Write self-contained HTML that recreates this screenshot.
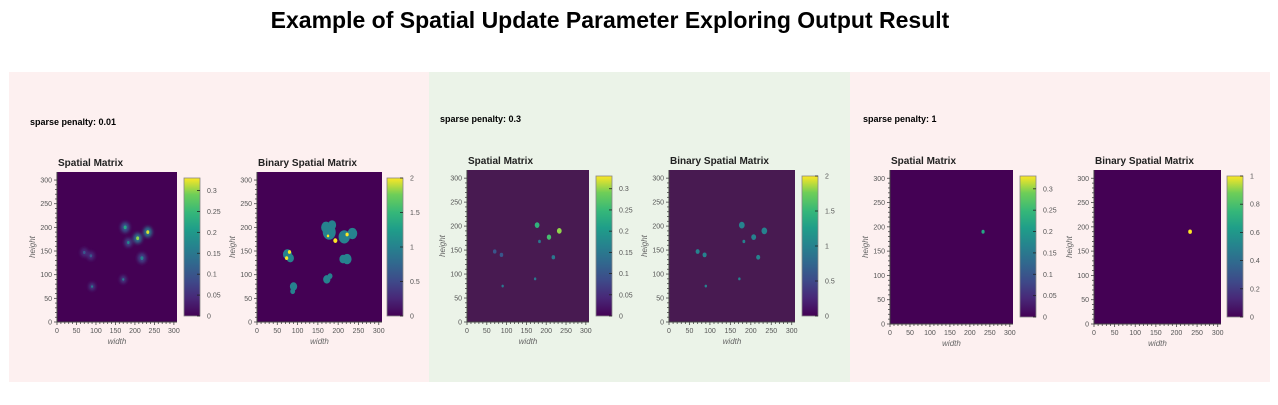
<!DOCTYPE html>
<html><head><meta charset="utf-8"><style>
body{margin:0;background:#fff;width:1278px;height:400px;overflow:hidden;font-family:"Liberation Sans",sans-serif}
</style></head><body>
<svg id="s" width="1278" height="400" xmlns="http://www.w3.org/2000/svg">
<defs><linearGradient id="vir" x1="0" y1="1" x2="0" y2="0">
<stop offset="0" stop-color="#440154"/><stop offset="0.13" stop-color="#482878"/><stop offset="0.25" stop-color="#3e4989"/><stop offset="0.38" stop-color="#31688e"/><stop offset="0.5" stop-color="#26828e"/><stop offset="0.63" stop-color="#1f9e89"/><stop offset="0.75" stop-color="#35b779"/><stop offset="0.88" stop-color="#6ece58"/><stop offset="1" stop-color="#fde725"/></linearGradient>
<filter id="bl"><feGaussianBlur stdDeviation="1.5"/></filter></defs>
<text x="610" y="28" text-anchor="middle" font-size="23" font-weight="bold" fill="#000">Example of Spatial Update Parameter Exploring Output Result</text>
<rect x="9" y="72" width="420" height="310" fill="#fdf0f0"/>
<rect x="429" y="72" width="421" height="310" fill="#ebf3e8"/>
<rect x="850" y="72" width="420" height="310" fill="#fdf0f0"/>
<text x="30" y="125" font-size="9" font-weight="bold">sparse penalty: 0.01</text>
<text x="440" y="122" font-size="9" font-weight="bold">sparse penalty: 0.3</text>
<text x="863" y="122" font-size="9" font-weight="bold">sparse penalty: 1</text>
</svg>
<script>
// spots: [x, y, value, radius(data units)]
const p1Spatial=[[175,200,0.22,7],[207,177,0.3,7],[233,190,0.32,7],[183,168,0.17,6],[218,135,0.16,7],[70,147,0.1,6],[87,140,0.1,6],[170,90,0.15,5],[90,75,0.15,5]];
const p1Binary=[[178,190,1,16],[170,200,1,12],[185,205,1,10],[215,180,1,14],[235,187,1,12],[222,133,1,11],[212,133,1,9],[75,143,1,11],[82,135,1,9],[90,75,1,9],[88,65,1,6],[172,90,1,9],[180,97,1,6],[80,148,2,4],[73,135,2,4],[193,172,2,5],[175,182,2,3],[222,185,2,4]];
const p2Spatial=[[177,202,0.24,6],[233,190,0.3,6],[207,177,0.26,5.5],[183,168,0.15,3.5],[218,135,0.15,4.5],[70,147,0.1,4.5],[87,140,0.1,4.5],[172,90,0.15,3],[90,75,0.15,3]];
const p2Binary=[[178,202,1,7],[233,190,1,7],[207,177,1,6],[183,168,1,3.5],[218,135,1,5],[70,147,1,5],[87,140,1,5],[172,90,1,3],[90,75,1,3]];
const p3Spatial=[[233,190,0.22,4]];
const p3Binary=[[233,190,1,4.5]];
const xTicks=[0,50,100,150,200,250,300];
const yTicks=[0,50,100,150,200,250,300];
const cbTicksSpatial=[0,0.05,0.1,0.15,0.2,0.25,0.3];
const cbTicksBin2=[0,0.5,1,1.5,2];
const cbTicksBin1=[0,0.2,0.4,0.6,0.8,1];
const S=document.getElementById('s'),NS='http://www.w3.org/2000/svg';
function el(t,a,p){const e=document.createElementNS(NS,t);for(const k in a)e.setAttribute(k,a[k]);(p||S).appendChild(e);return e;}
const stops=[[0,[68,1,84]],[.13,[72,40,120]],[.25,[62,73,137]],[.38,[49,104,142]],[.5,[38,130,142]],[.63,[31,158,137]],[.75,[53,183,121]],[.88,[110,206,88]],[1,[253,231,37]]];
function vir(t){t=Math.max(0,Math.min(1,t));for(let i=1;i<stops.length;i++){if(t<=stops[i][0]){const a=stops[i-1],b=stops[i],f=(t-a[0])/(b[0]-a[0]);return 'rgb('+a[1].map((v,j)=>Math.round(v+(b[1][j]-v)*f)).join(',')+')';}}return '#fde725';}
function plot(o){
  const g=el('g',{});
  
  
  const W=o.x1-o.x0,H=o.y1-o.y0;
  const sx=v=>o.x0+v/308*W, sy=v=>o.y1-v/317*H;
  const t=el('text',{x:o.x0+1,y:o.y0-6,'font-size':10,'font-weight':'bold',fill:'#222'},g);t.textContent=o.title;
  
  
  const bg=el('rect',{x:o.x0,y:o.y0,width:W,height:H,fill:o.bg},g);
  
  
  if(o.blur){const hg=el('g',{filter:'url(#bl)'},g);
    o.spots.forEach(p=>{const c=el('ellipse',{cx:sx(p[0]),cy:sy(p[1]),rx:p[3]*1.6*W/308,ry:p[3]*1.6*H/317,fill:vir(p[2]*0.45/o.max)},hg);
      
      });}
  o.spots.forEach(p=>{const k=o.blur?0.55:1;const c=el('ellipse',{cx:sx(p[0]),cy:sy(p[1]),rx:p[3]*k*W/308,ry:p[3]*k*H/317,fill:vir(p[2]/o.max)},g);
    
    });
  el('line',{x1:o.x0,y1:o.y1,x2:o.x1,y2:o.y1,stroke:'#444','stroke-width':1},g);
  el('line',{x1:o.x0,y1:o.y0,x2:o.x0,y2:o.y1,stroke:'#444','stroke-width':1},g);
  for(let v=0;v<=305;v+=10){el('line',{x1:sx(v),y1:o.y1,x2:sx(v),y2:o.y1+(v%50?2:3),stroke:'#444','stroke-width':0.8},g);
    el('line',{x1:o.x0,y1:sy(v),x2:o.x0-(v%50?2:3),y2:sy(v),stroke:'#444','stroke-width':0.8},g);}
  xTicks.forEach(v=>{const l=el('text',{x:sx(v),y:o.y1+11,'font-size':7,'text-anchor':'middle',fill:'#555'},g);l.textContent=v;
    
    });
  yTicks.forEach(v=>{const l=el('text',{x:o.x0-5,y:sy(v)+2.5,'font-size':7,'text-anchor':'end',fill:'#555'},g);l.textContent=v;
    
    });
  const xl=el('text',{x:(o.x0+o.x1)/2,y:o.y1+22,'font-size':8,'font-style':'italic','text-anchor':'middle',fill:'#666'},g);xl.textContent='width';
  
  
  const yl=el('text',{x:0,y:0,'font-size':8,'font-style':'italic','text-anchor':'middle',fill:'#666',transform:`translate(${o.x0-22},${(o.y0+o.y1)/2}) rotate(-90)`},g);yl.textContent='height';
  
  
  const cb=el('rect',{x:o.cx,y:o.cy0,width:16,height:o.cy1-o.cy0,fill:'url(#vir)',stroke:'#888','stroke-width':0.8},g);
  
  
  o.cbt.forEach(v=>{const y=o.cy1-v/o.max*(o.cy1-o.cy0);
    el('line',{x1:o.cx+13,y1:y,x2:o.cx+16,y2:y,stroke:'#222','stroke-width':0.8},g);
    const l=el('text',{x:o.cx+23,y:y+2.5,'font-size':7,fill:'#555'},g);l.textContent=v;
    
    });
}
plot({name:'p1-spatial-matrix',title:'Spatial Matrix',x0:57,x1:177,y0:172,y1:322,cx:184,cy0:178,cy1:316,bg:'#440154',spots:p1Spatial,max:0.33,cbt:cbTicksSpatial,blur:1});
plot({name:'p1-binary-matrix',title:'Binary Spatial Matrix',x0:257,x1:382,y0:172,y1:322,cx:387,cy0:178,cy1:316,bg:'#440154',spots:p1Binary,max:2,cbt:cbTicksBin2});
plot({name:'p2-spatial-matrix',title:'Spatial Matrix',x0:467,x1:589,y0:170,y1:322,cx:596,cy0:176,cy1:316,bg:'#481a51',spots:p2Spatial,max:0.33,cbt:cbTicksSpatial});
plot({name:'p2-binary-matrix',title:'Binary Spatial Matrix',x0:669,x1:795,y0:170,y1:322,cx:802,cy0:176,cy1:316,bg:'#481a51',spots:p2Binary,max:2,cbt:cbTicksBin2});
plot({name:'p3-spatial-matrix',title:'Spatial Matrix',x0:890,x1:1013,y0:170,y1:324,cx:1020,cy0:176,cy1:317,bg:'#440154',spots:p3Spatial,max:0.33,cbt:cbTicksSpatial});
plot({name:'p3-binary-matrix',title:'Binary Spatial Matrix',x0:1094,x1:1221,y0:170,y1:324,cx:1227,cy0:176,cy1:317,bg:'#440154',spots:p3Binary,max:1,cbt:cbTicksBin1});
</script>
</body></html>
